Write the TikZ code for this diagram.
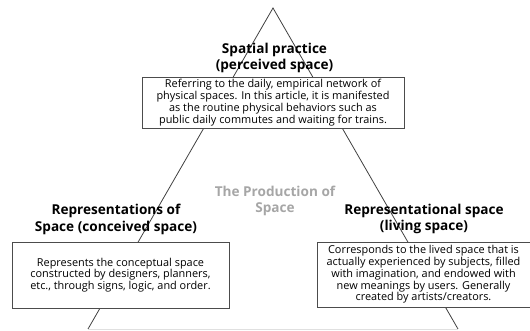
\documentclass[tikz,border=0pt]{standalone}
\usepackage{fontspec}
\setmainfont{Open Sans}

\begin{document}
\begin{tikzpicture}[x=1pt,y=1pt,
    textbox/.style={draw=black!70,fill=white,line width=0.8pt,align=center,inner sep=1pt,font=\fontsize{10.9}{11.8}\selectfont},
    heading/.style={align=center,font=\fontsize{13.6}{16.5}\selectfont\bfseries}]
      \useasboundingbox (0,0) rectangle (530,331);
      % triangle
      \coordinate (apex) at (273,323);
      \coordinate (baseL) at (88,2);
      \coordinate (baseR) at (458,2);
      \draw[black!75,line width=0.8pt] (baseL) -- (apex) -- (baseR);
      \draw[black!12,line width=0.8pt] (baseL) -- (baseR);
      % boxes
      \node[textbox,minimum width=262,minimum height=51] (perceived) at (273,228.5) {Referring to the daily, empirical network of\\physical spaces. In this article, it is manifested\\as the routine physical behaviors such as\\public daily commutes and waiting for trains.};
      \node[textbox,minimum width=217,minimum height=66] (conceived) at (120.5,56) {Represents the conceptual space\\constructed by designers, planners,\\etc., through signs, logic, and order.};
      \node[textbox,minimum width=213,minimum height=65] (living) at (423.5,56.5) {Corresponds to the lived space that is\\actually experienced by subjects, filled\\with imagination, and endowed with\\new meanings by users. Generally\\created by artists/creators.};
      % headings
      \node[heading] (perceivedhead) at (274.5,273) {Spatial practice\\(perceived space)};
      \node[heading] (conceivedhead) at (116,111.5) {Representations of\\Space (conceived space)};
      \node[heading] (livinghead) at (424,112) {Representational space\\(living space)};
      \node[heading,text=black!35] (production) at (275,130) {The Production of\\Space};
    \end{tikzpicture}
\end{document}
